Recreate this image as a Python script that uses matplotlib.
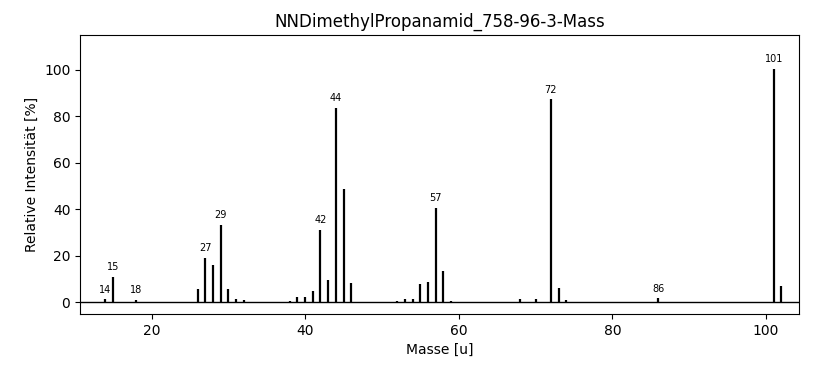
import numpy as np
import matplotlib
matplotlib.use("Agg")
import matplotlib.pyplot as plt

masses = [14, 15, 18, 26, 27, 28, 29, 30, 31, 32,
          38, 39, 40, 41, 42, 43, 44, 45, 46,
          52, 53, 54, 55, 56, 57, 58, 59,
          68, 70, 72, 73, 74, 86, 101, 102]
intens = [1.3, 10.9, 1.0, 5.6, 19.3, 15.9, 33.5, 5.6, 1.3, 0.9,
          0.8, 2.2, 2.5, 4.8, 31.2, 9.7, 83.7, 48.6, 8.2,
          0.8, 1.3, 1.3, 7.8, 8.6, 40.6, 13.6, 0.8,
          1.3, 1.3, 87.4, 6.4, 0.9, 1.7, 100.5, 6.9]
labeled = [14, 15, 18, 27, 29, 42, 44, 57, 72, 86, 101]

fig = plt.figure(figsize=(8.17, 3.66), dpi=100)
ax = fig.add_axes([0.098, 0.142, 0.880, 0.762])

ax.vlines(masses, 0, intens, colors="k", linewidth=1.6)
ax.axhline(0, color="k", linewidth=1)

for m, h in zip(masses, intens):
    if m in labeled:
        ax.text(m, h + 2, str(m), ha="center", va="bottom", fontsize=7)

ax.set_xlim(10.7, 104.3)
ax.set_ylim(-5, 115)
ax.set_title("NNDimethylPropanamid_758-96-3-Mass")
ax.set_xlabel("Masse [u]")
ax.set_ylabel("Relative Intensität [%]")

fig.savefig("out.png", dpi=100)
